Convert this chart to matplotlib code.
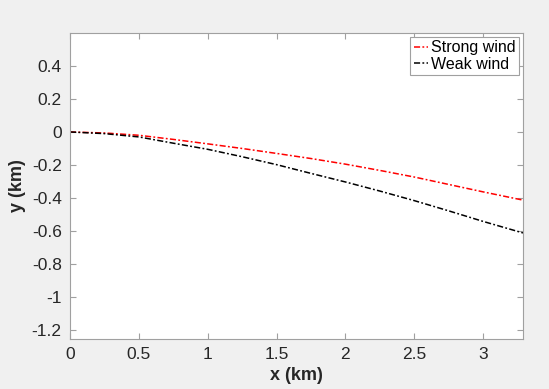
import matplotlib
matplotlib.use("Agg")
import matplotlib.pyplot as plt

# Trajectory samples (km)
x_km = [0, 0.25, 0.5, 0.75, 1.0, 1.25, 1.5, 1.75, 2.0, 2.25, 2.5, 2.75, 3.0, 3.29]
y_strong = [0, -0.006, -0.02, -0.045, -0.072, -0.100, -0.130, -0.161, -0.195,
            -0.233, -0.273, -0.318, -0.363, -0.413]
y_weak = [0, -0.010, -0.030, -0.068, -0.105, -0.150, -0.198, -0.251, -0.303,
          -0.358, -0.416, -0.478, -0.542, -0.612]

series_labels = ["Strong wind", "Weak wind"]
x_ticks = [0, 0.5, 1, 1.5, 2, 2.5, 3]
x_ticklabels = ["0", "0.5", "1", "1.5", "2", "2.5", "3"]
y_ticks = [0.4, 0.2, 0, -0.2, -0.4, -0.6, -0.8, -1, -1.2]
y_ticklabels = ["0.4", "0.2", "0", "-0.2", "-0.4", "-0.6", "-0.8", "-1", "-1.2"]

plt.rcParams["font.family"] = ["Liberation Sans", "DejaVu Sans"]

fig = plt.figure(figsize=(5.49, 3.89), dpi=100, facecolor="#f0f0f0")
ax = fig.add_axes([0.1275, 0.1285, 0.8251, 0.7867])
ax.set_facecolor("white")

dashdot = (0, (4, 1.5, 1.2, 1.5))
ax.plot(x_km, y_strong, color="red", linestyle=dashdot, linewidth=1.1, label=series_labels[0])
ax.plot(x_km, y_weak, color="black", linestyle=dashdot, linewidth=1.1, label=series_labels[1])

ax.set_xlim(0, 3.29)
ax.set_ylim(-1.255, 0.6)
ax.set_xticks(x_ticks)
ax.set_xticklabels(x_ticklabels)
ax.set_yticks(y_ticks)
ax.set_yticklabels(y_ticklabels)

spine_color = "#a0a0a0"
for s in ax.spines.values():
    s.set_color(spine_color)
    s.set_linewidth(0.8)
ax.tick_params(direction="in", length=4, width=0.8, color=spine_color,
               top=True, right=True, labelsize=12.5, labelcolor="#262626", pad=6)

ax.set_xlabel("x (km)", fontsize=13, fontweight="bold", color="#262626", labelpad=3)
ax.set_ylabel("y (km)", fontsize=13, fontweight="bold", color="#262626", labelpad=4)

leg = ax.legend(loc="upper right", fontsize=11.5, handlelength=0.9, handletextpad=0.2,
                borderpad=0.2, labelspacing=0.1, fancybox=False, framealpha=1,
                borderaxespad=0.25)
leg.get_frame().set_edgecolor("#a0a0a0")
leg.get_frame().set_linewidth(0.8)

fig.savefig("out.png", dpi=100, facecolor=fig.get_facecolor())
